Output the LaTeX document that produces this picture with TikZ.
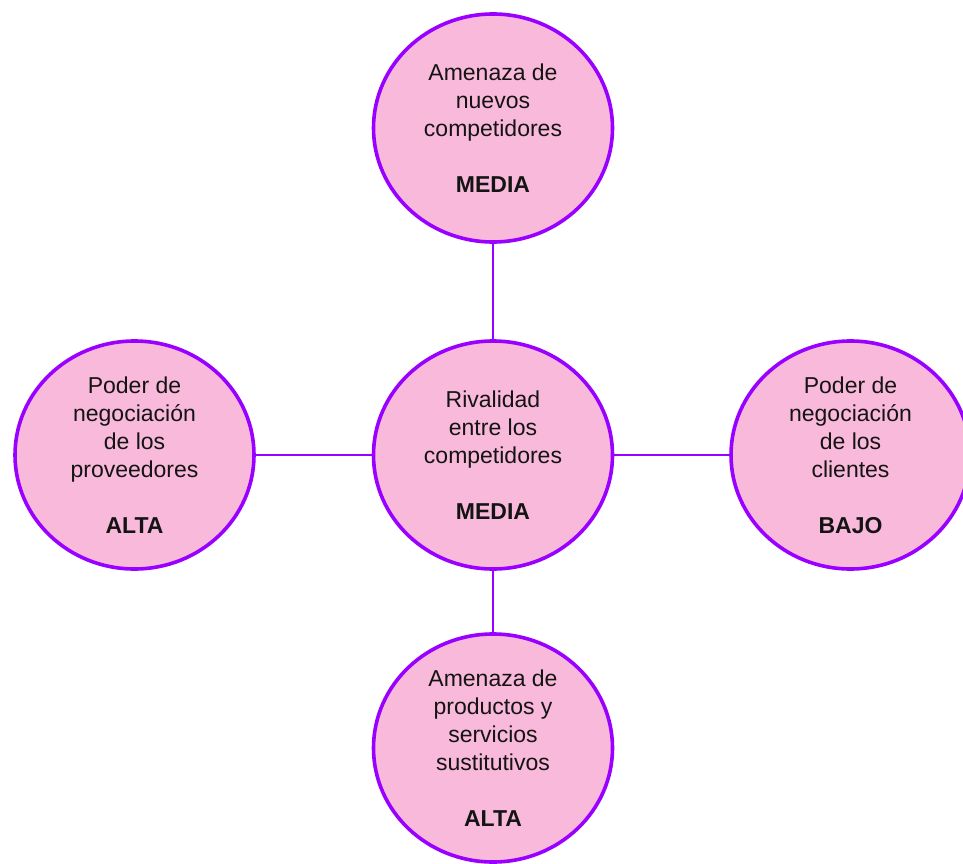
\documentclass[tikz,border=0pt]{standalone}
\usepackage{fontspec}
\setmainfont{Liberation Sans}
\usetikzlibrary{shapes.geometric}
\definecolor{pinkfill}{HTML}{F9B9DA}
\definecolor{purpleline}{HTML}{9900FF}
\definecolor{txt}{HTML}{141414}
\begin{document}
\begin{tikzpicture}[x=1pt,y=-1pt,
  force/.style={ellipse, draw=purpleline, fill=pinkfill, line width=3.6pt,
    minimum width=239pt, minimum height=228pt, inner sep=0pt,
    align=center, text=txt, font=\fontsize{23}{28}\selectfont},
  link/.style={draw=purpleline, line width=2.6pt}]
\useasboundingbox (0,0) rectangle (963,864);
\fill[white] (0,0) rectangle (963,864);
\clip (0,0) rectangle (963,864);
\node[force] (c) at (493,455) {Rivalidad\\entre los\\competidores\\[28pt]\textbf{MEDIA}};
\node[force] (t) at (493,128) {Amenaza de\\nuevos\\competidores\\[28pt]\textbf{MEDIA}};
\node[force] (l) at (134.5,455) {Poder de\\negociación\\de los\\proveedores\\[28pt]\textbf{ALTA}};
\node[force] (r) at (850.5,455) {Poder de\\negociación\\de los\\clientes\\[28pt]\textbf{BAJO}};
\node[force] (b) at (493,748) {Amenaza de\\productos y\\servicios\\sustitutivos\\[28pt]\textbf{ALTA}};
\draw[link] (c.north) -- (t.south);
\draw[link] (c.south) -- (b.north);
\draw[link] (c.west) -- (l.east);
\draw[link] (c.east) -- (r.west);
\end{tikzpicture}
\end{document}
